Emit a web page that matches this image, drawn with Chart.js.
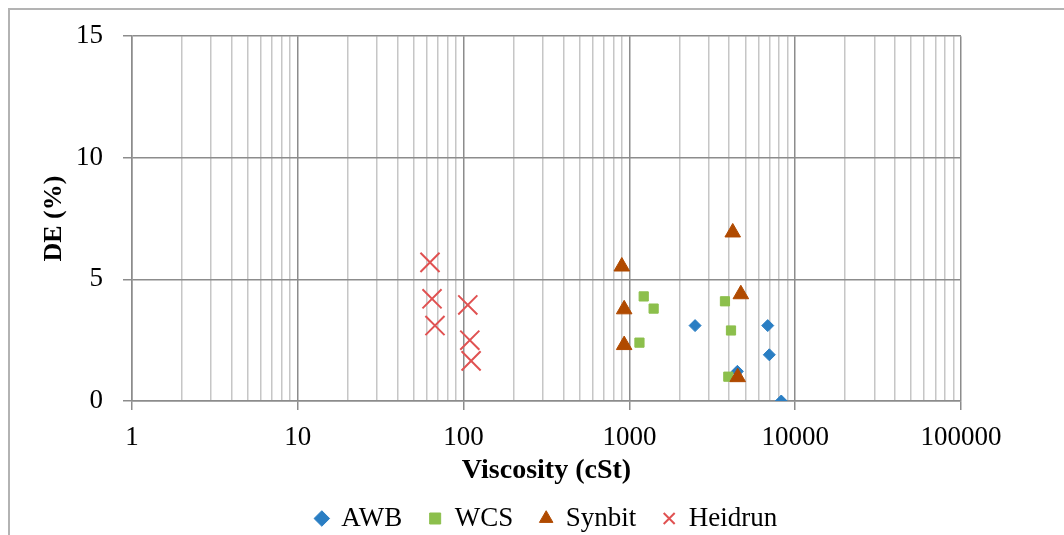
<!DOCTYPE html>
<html>
<head>
<meta charset="utf-8">
<script src="https://cdn.jsdelivr.net/npm/chart.js@4.4.1/dist/chart.umd.min.js"></script>
<style>
  html, body { margin: 0; padding: 0; background: #fff; overflow: hidden; }
  #wrap { position: relative; width: 1064px; height: 535px; }
  #frame { position: absolute; left: 8px; top: 8px; width: 1200px; height: 700px;
           border: 2px solid #b3b3b3; pointer-events: none; }
</style>
</head>
<body>
<div id="wrap">
  <canvas id="deChart" width="1064" height="535"></canvas>
  <div id="frame"></div>
</div>
<script>
// viscosity (cSt) vs DE (%) per crude
const awbVisc = [2490, 6830, 6980, 4480, 8240];
const awbDE = [3.1, 3.1, 1.9, 1.22, 0.0];

const wcsVisc = [1220, 1400, 1150, 3770, 4100, 3950];
const wcsDE = [4.3, 3.8, 2.4, 4.1, 2.9, 1.0];

const synbitVisc = [900, 930, 930, 4200, 4700, 4500];
const synbitDE = [5.53, 3.77, 2.3, 6.93, 4.39, 0.98];

const heidrunVisc = [62.7, 64.5, 67.2, 106, 109, 111];
const heidrunDE = [5.7, 4.2, 3.1, 3.95, 2.5, 1.65];

const decadeLabels = ['1', '10', '100', '1000', '10000', '100000'];
const deTicks = [0, 5, 10, 15];

const decades = decadeLabels.map(Number);
const xTickValues = [];
for (let i = 0; i < decades.length - 1; i++) {
    for (let m = 1; m <= 9; m++) xTickValues.push(m * decades[i]);
}
xTickValues.push(decades[decades.length - 1]);

const toPoints = (xs, ys) => xs.map((x, i) => ({ x: x, y: ys[i] }));

const majorGrid = '#8c8c8c';
const minorGrid = '#c6c6c6';

Chart.defaults.font.family = '"Liberation Serif", "Times New Roman", serif';
Chart.defaults.font.size = 27;
Chart.defaults.color = '#000';

new Chart(document.getElementById('deChart'), {
    type: 'scatter',
    data: {
        datasets: [
            {
                label: 'AWB',
                data: toPoints(awbVisc, awbDE),
                pointStyle: 'rectRot',
                pointRadius: 6,
                backgroundColor: '#2a7ec3',
                borderColor: '#2a7ec3',
                borderWidth: 1,
                order: 4
            },
            {
                label: 'WCS',
                data: toPoints(wcsVisc, wcsDE),
                pointStyle: 'rect',
                pointRadius: 6.5,
                backgroundColor: '#8cbf4c',
                borderColor: '#8cbf4c',
                borderWidth: 1,
                order: 3
            },
            {
                label: 'Synbit',
                data: toPoints(synbitVisc, synbitDE),
                pointStyle: 'triangle',
                pointRadius: 9,
                backgroundColor: '#b04a00',
                borderColor: '#b04a00',
                borderWidth: 1,
                order: 2
            },
            {
                label: 'Heidrun',
                data: toPoints(heidrunVisc, heidrunDE),
                pointStyle: 'crossRot',
                pointRadius: 13.5,
                backgroundColor: '#e05252',
                borderColor: '#e05252',
                borderWidth: 2,
                order: 1
            }
        ]
    },
    options: {
        responsive: false,
        animation: false,
        layout: {
            padding: { top: 35, right: 103, left: 0, bottom: -7 }
        },
        plugins: {
            tooltip: { enabled: false },
            legend: {
                position: 'bottom',
                fullSize: false,
                labels: {
                    usePointStyle: true,
                    boxWidth: 12,
                    boxHeight: 11,
                    padding: 27,
                    sort: (a, b) => a.datasetIndex - b.datasetIndex
                }
            }
        },
        scales: {
            x: {
                type: 'logarithmic',
                min: 1,
                max: 100000,
                afterBuildTicks: (scale) => {
                    scale.ticks = xTickValues.map(v => ({ value: v, major: decades.includes(v) }));
                },
                afterFit: (scale) => { scale.height = 77; },
                ticks: {
                    autoSkip: false,
                    maxRotation: 0,
                    padding: 12,
                    callback: (value) => decades.includes(value) ? String(value) : ''
                },
                grid: {
                    lineWidth: 1.5,
                    tickLength: 9,
                    color: (ctx) => ctx.tick && decades.includes(ctx.tick.value) ? majorGrid : minorGrid,
                    tickColor: (ctx) => ctx.tick && decades.includes(ctx.tick.value) ? majorGrid : 'rgba(0,0,0,0)'
                },
                border: { color: majorGrid, width: 1.5 },
                title: {
                    display: true,
                    text: 'Viscosity (cSt)',
                    font: { weight: 'bold', size: 28 },
                    padding: { top: 0, bottom: -10 }
                }
            },
            y: {
                min: 0,
                max: 15,
                afterBuildTicks: (scale) => {
                    scale.ticks = deTicks.map(v => ({ value: v }));
                },
                afterFit: (scale) => { scale.width = 132; },
                ticks: { padding: 20 },
                grid: {
                    lineWidth: 1.5,
                    tickLength: 9,
                    color: majorGrid,
                    tickColor: majorGrid
                },
                border: { color: majorGrid, width: 1.5 },
                title: {
                    display: true,
                    text: 'DE (%)',
                    font: { weight: 'bold', size: 26 },
                    padding: { top: 39, bottom: 0 }
                }
            }
        }
    }
});
</script>
</body>
</html>
